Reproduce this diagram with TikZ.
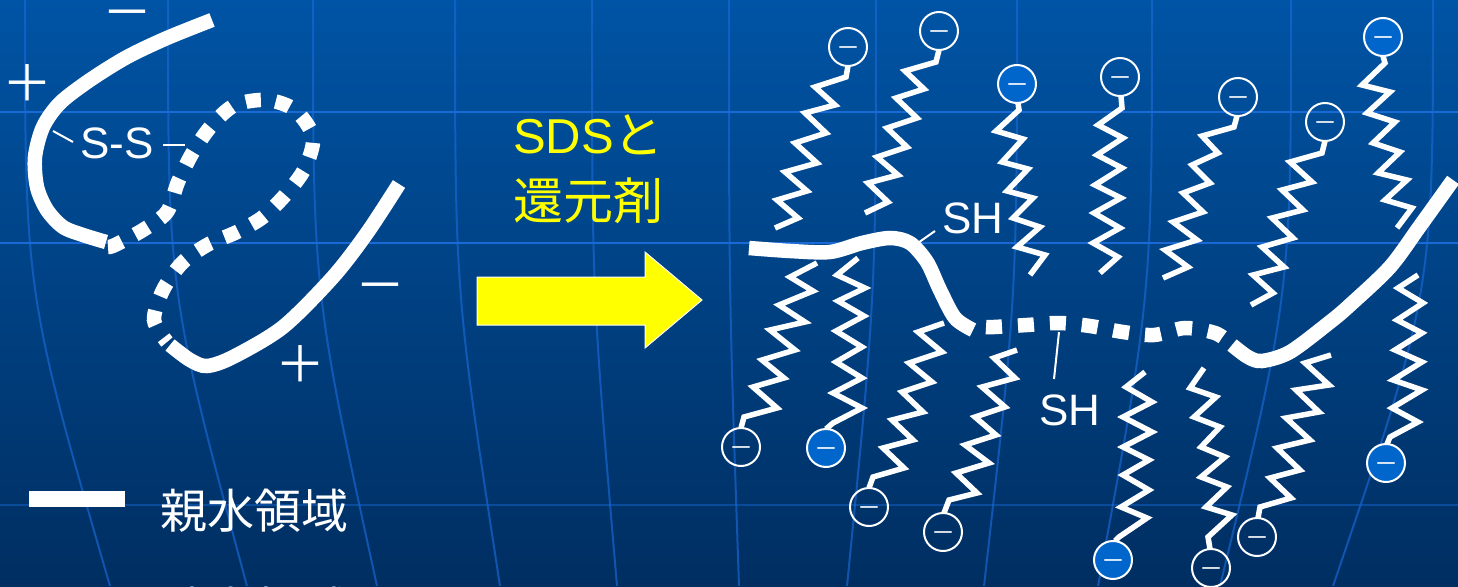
\documentclass[tikz,border=0pt]{standalone}
\usepackage{fontspec}
\setmainfont{Liberation Sans}
\newfontfamily\jpfont{Noto Sans CJK JP}
\usetikzlibrary{calc}

\definecolor{bgtop}{RGB}{0,84,165}
\definecolor{bgbot}{RGB}{0,46,97}
\definecolor{gridblue}{RGB}{25,105,215}
\definecolor{headblue}{RGB}{0,102,204}
\definecolor{sdsyellow}{RGB}{255,255,0}

\tikzset{
  gridline/.style={gridblue, line width=2.5pt},
  meridian/.style={gridblue, line width=2pt, opacity=0.65},
  strand/.style={white, line width=14.5pt, line cap=butt},
  loopstrand/.style={white, line width=14.5pt, line cap=butt, dash pattern=on 15pt off 15pt},
  tailchain/.style={white, line width=5.5pt, line join=miter, miter limit=10},
  head/.style={circle, draw=white, line width=2pt, minimum size=38pt, inner sep=0pt},
  headfill/.style={fill=headblue},
  headsign/.style={anchor=north, inner sep=0pt, text=white, font=\jpfont\fontsize{24}{24}\selectfont},
  charge/.style={inner sep=0pt, text=white, font=\jpfont\fontsize{50}{50}\selectfont},
  leader/.style={white, line width=2pt},
  tag/.style={inner sep=0pt, text=white, font=\fontsize{44}{44}\selectfont},
}

% SDS head group: name, x, y, extra style
\newcommand\sdshead[4]{%
  \node[head,#4] (#1) at (#2,#3) {};
  \node[headsign] at (#2,{#3-1}) {－};}

\begin{document}
\begin{tikzpicture}[x=1pt,y=-1pt]
\useasboundingbox (0,0) rectangle (1458,586);
\clip (0,0) rectangle (1458,586);

% background and perspective grid
\shade[top color=bgtop, bottom color=bgbot] (0,0) rectangle (1458,586);
\foreach \x/\s in {25/85,168/79,313/64,455/45,592/25,729/10,876/-29,1017/-33,1152/-54,1291/-71,1433/-100}
  \draw[meridian] (\x,0) .. controls (\x,293) .. ({\x+\s},586);
\draw[gridline] (0,112) -- (1458,112);
\draw[gridline] (0,243) -- (1458,243);
\draw[gridline, opacity=0.45] (0,505) -- (1458,505);

% folded protein (left)
\draw[strand] plot[smooth] coordinates {(212,20) (167,38) (127,57) (90,80) (60,103) (43,127) (35,157) (37,187) (47,210) (63,227) (83,235) (106,242)};
\draw[loopstrand] plot[smooth] coordinates {(108,247) (115,245) (143,230) (167,212) (178,182) (193,152) (212,125) (235,105) (267,100) (295,110) (313,137) (305,168) (287,193) (263,217) (237,232) (207,245) (182,263) (163,290) (154,320) (167,342)};
\draw[strand] plot[smooth] coordinates {(170,345) (190,360) (207,366) (233,357) (283,327) (333,277) (367,233) (399,184)};

\node[tag] (ss) at (117,143) {S-S};
\coordinate (ssl) at (53,131);
\coordinate (ssr) at (185,145);
\draw[leader] (ssl) -- (73,142);
\draw[leader] (163,145) -- (ssr);

\node[charge, anchor=north] (m1) at (127,10) {－};
\node[charge] (p1) at (27,83) {＋};
\node[charge, anchor=north] (m2) at (380,283) {－};
\node[charge] (p2) at (300,364) {＋};

% reagent and arrow
\node[anchor=base west, inner sep=0pt, text=sdsyellow] (sds) at (513,153)
  {{\fontsize{49}{49}\selectfont SDS}{\jpfont\fontsize{50}{50}\selectfont と}};
\node[anchor=base west, inner sep=0pt, text=sdsyellow, font=\jpfont\fontsize{50}{50}\selectfont] (red) at (513,219) {還元剤};
\draw[fill=sdsyellow, draw=white, line width=1pt, line join=miter]
  (477,277) -- (645,277) -- (645,252) -- (702,300) -- (645,348) -- (645,325) -- (477,325) -- cycle;

% legend
\fill[white] (29,491) rectangle (125,507);
\node[anchor=base west, inner sep=0pt, text=white, font=\jpfont\fontsize{47}{47}\selectfont] (hyd) at (160,528) {親水領域};
\node[anchor=base west, inner sep=0pt, text=white, font=\jpfont\fontsize{47}{47}\selectfont] (pho) at (160,626) {疎水領域};

% unfolded protein (right)
\draw[strand] plot[smooth] coordinates {(749,248) (790,251) (830,252) (862,243) (890,238) (910,243) (927,262) (940,290) (955,318) (973,330)};
\draw[loopstrand, dash pattern=on 16pt off 16pt] plot[smooth] coordinates {(986,327) (994,327) (1027,325) (1059,323) (1090,326) (1123,332) (1154,335) (1185,328) (1215,333) (1230,343)};
\draw[strand] plot[smooth] coordinates {(1232,345) (1248,357) (1262,361) (1290,352) (1330,322) (1350,305) (1390,267) (1420,226) (1453,180)};

\node[tag] (sh1) at (973,218) {SH};
\node[tag] (sh2) at (1070,410) {SH};
\coordinate (sh1a) at (915,245);
\coordinate (sh2a) at (1059,332);
\draw[leader] (sh1a) -- (935,231);
\draw[leader] (sh2a) -- (1054,379);

% SDS hydrocarbon tails
\draw[tailchain] (848,66) -- (846,77) -- (815,87) -- (835,105) -- (805,113) -- (826,133) -- (795,143) -- (817,163) -- (785,172) -- (807,191) -- (777,200) -- (798,218) -- (775,228);
\draw[tailchain] (939,50) -- (936,62) -- (905,71) -- (924,89) -- (896,98) -- (917,118) -- (887,128) -- (907,147) -- (877,157) -- (898,175) -- (868,183) -- (888,202) -- (865,213);
\draw[tailchain] (1018,103) -- (1019,110) -- (996,131) -- (1023,139) -- (1002,162) -- (1028,169) -- (1007,191) -- (1033,198) -- (1013,218) -- (1040,227) -- (1017,247) -- (1045,255) -- (1030,275);
\draw[tailchain] (1121,96) -- (1122,108) -- (1098,125) -- (1123,138) -- (1097,155) -- (1122,168) -- (1095,185) -- (1121,198) -- (1094,213) -- (1120,228) -- (1093,243) -- (1118,257) -- (1100,273);
\draw[tailchain] (1237,116) -- (1234,127) -- (1202,136) -- (1218,153) -- (1192,165) -- (1210,183) -- (1183,193) -- (1203,212) -- (1173,222) -- (1197,240) -- (1165,250) -- (1188,267) -- (1163,278);
\draw[tailchain] (1325,141) -- (1322,153) -- (1290,162) -- (1312,182) -- (1282,190) -- (1303,210) -- (1272,218) -- (1293,238) -- (1262,247) -- (1284,267) -- (1253,275) -- (1273,293) -- (1251,305);
\draw[tailchain] (1383,56) -- (1385,63) -- (1362,85) -- (1390,92) -- (1367,113) -- (1395,122) -- (1373,143) -- (1400,152) -- (1378,173) -- (1407,180) -- (1385,200) -- (1412,208) -- (1397,228);
\draw[tailchain] (741,428) -- (744,417) -- (777,408) -- (753,387) -- (784,378) -- (762,360) -- (795,350) -- (770,330) -- (805,322) -- (779,305) -- (813,291) -- (790,277) -- (817,263);
\draw[tailchain] (826,429) -- (833,423) -- (862,408) -- (833,393) -- (862,378) -- (836,362) -- (862,347) -- (836,331) -- (864,316) -- (838,301) -- (865,288) -- (837,275) -- (858,258);
\draw[tailchain] (869,488) -- (873,477) -- (904,468) -- (883,448) -- (913,440) -- (892,420) -- (923,412) -- (902,392) -- (932,382) -- (909,363) -- (942,352) -- (918,332) -- (944,323);
\draw[tailchain] (944,513) -- (949,500) -- (977,493) -- (956,473) -- (989,463) -- (965,445) -- (996,435) -- (975,417) -- (1005,407) -- (982,387) -- (1015,378) -- (994,358) -- (1017,350);
\draw[tailchain] (1115,541) -- (1119,537) -- (1147,518) -- (1121,507) -- (1149,490) -- (1123,475) -- (1149,460) -- (1123,447) -- (1152,432) -- (1123,417) -- (1152,402) -- (1126,387) -- (1145,372);
\draw[tailchain] (1210,549) -- (1208,537) -- (1232,515) -- (1206,507) -- (1227,487) -- (1201,477) -- (1225,457) -- (1201,447) -- (1220,427) -- (1194,417) -- (1216,397) -- (1190,388) -- (1204,368);
\draw[tailchain] (1258,518) -- (1260,507) -- (1291,498) -- (1270,478) -- (1300,470) -- (1277,448) -- (1310,440) -- (1286,418) -- (1319,412) -- (1296,390) -- (1329,385) -- (1305,363) -- (1331,355);
\draw[tailchain] (1387,444) -- (1390,437) -- (1418,422) -- (1392,408) -- (1422,390) -- (1393,380) -- (1422,362) -- (1395,350) -- (1422,333) -- (1397,320) -- (1423,303) -- (1398,288) -- (1418,275);

% SDS sulfate heads
\sdshead{h1}{848}{47}{}
\sdshead{h2}{939}{31}{}
\sdshead{h3}{1017}{84}{headfill}
\sdshead{h4}{1120}{77}{}
\sdshead{h5}{1238}{97}{}
\sdshead{h6}{1325}{122}{}
\sdshead{h7}{1383}{37}{headfill}
\sdshead{h8}{741}{447}{}
\sdshead{h9}{826}{448}{headfill}
\sdshead{h10}{869}{507}{}
\sdshead{h11}{943}{532}{}
\sdshead{h12}{1113}{560}{headfill}
\sdshead{h13}{1211}{568}{}
\sdshead{h14}{1257}{537}{}
\sdshead{h15}{1386}{463}{headfill}
\end{tikzpicture}
\end{document}
